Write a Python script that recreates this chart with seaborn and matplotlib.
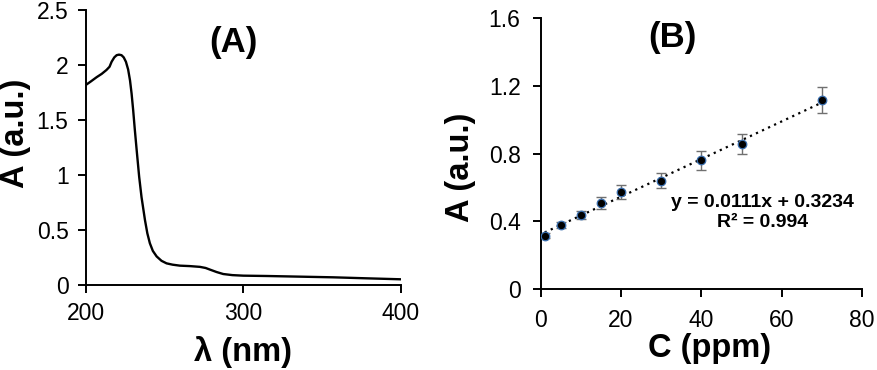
import numpy as np
import pandas as pd
import matplotlib
matplotlib.use("Agg")
import matplotlib.pyplot as plt
import seaborn as sns

# ---- Data: panel A (UV-Vis spectrum) ----
wavelength = [200, 203, 206.8, 210, 213, 215, 216.3, 218, 219.5, 221, 222.6, 224,
              225.4, 226.8, 228, 229, 230, 231, 232.2, 233.8, 235.3, 237.5, 239,
              240.6, 242.5, 244.9, 248, 251.2, 255, 259.7, 266, 272.4, 276,
              278.8, 283, 287.2, 293, 299.9, 314.7, 335.9, 357, 378, 400]
absorbance = [1.82, 1.85, 1.89, 1.92, 1.955, 1.985, 2.03, 2.07, 2.09, 2.095, 2.09, 2.07,
              2.03, 1.96, 1.86, 1.74, 1.59, 1.42, 1.23, 0.985, 0.80, 0.59, 0.47,
              0.38, 0.31, 0.26, 0.22, 0.197, 0.185, 0.176, 0.172, 0.165, 0.155,
              0.14, 0.118, 0.10, 0.09, 0.085, 0.082, 0.076, 0.07, 0.061, 0.052]

# ---- Data: panel B (calibration) ----
conc = [1, 5, 10, 15, 20, 30, 40, 50, 70]
abs_b = [0.315, 0.378, 0.437, 0.510, 0.573, 0.640, 0.760, 0.855, 1.117]
err_b = [0.015, 0.02, 0.024, 0.035, 0.043, 0.045, 0.055, 0.06, 0.079]
eq_text = "y = 0.0111x + 0.3234"
r2_text = "R² = 0.994"

xticks_a = [200, 300, 400]
yticks_a = [0, 0.5, 1, 1.5, 2, 2.5]
yticklabels_a = ["0", "0.5", "1", "1.5", "2", "2.5"]
xticks_b = [0, 20, 40, 60, 80]
yticks_b = [0, 0.4, 0.8, 1.2, 1.6]
yticklabels_b = ["0", "0.4", "0.8", "1.2", "1.6"]

sns.set_theme(style="ticks")
plt.rcParams['font.family'] = ['Liberation Sans', 'DejaVu Sans']
plt.rcParams['axes.linewidth'] = 1.4
plt.rcParams['xtick.major.width'] = 1.4
plt.rcParams['ytick.major.width'] = 1.4
plt.rcParams['xtick.major.size'] = 5.5
plt.rcParams['ytick.major.size'] = 5.5
plt.rcParams['xtick.color'] = 'black'
plt.rcParams['ytick.color'] = 'black'
plt.rcParams['xtick.labelcolor'] = 'black'
plt.rcParams['ytick.labelcolor'] = 'black'
plt.rcParams['axes.edgecolor'] = 'black'
plt.rcParams['axes.labelcolor'] = 'black'
plt.rcParams['text.color'] = 'black'

fig = plt.figure(figsize=(8.77, 3.70), dpi=100)
axA = fig.add_axes([0.098, 0.2297, 0.359, 0.743])
axB = fig.add_axes([0.6165, 0.219, 0.3665, 0.732])

TICK = 16.5
LAB = 23.5

# Panel A
dfA = pd.DataFrame({"wl": wavelength, "A": absorbance})
sns.lineplot(data=dfA, x="wl", y="A", ax=axA, color="black", lw=1.7)
axA.set_xlim(200, 400)
axA.set_ylim(0, 2.5)
axA.set_xticks(xticks_a)
axA.set_yticks(yticks_a)
axA.set_yticklabels(yticklabels_a)
axA.tick_params(labelsize=TICK, pad=7, colors="black")
axA.set_xlabel("λ (nm)", fontsize=LAB, fontweight="bold", color="black")
axA.set_ylabel("A (a.u.)", fontsize=LAB, fontweight="bold", color="black")
axA.xaxis.set_label_coords(0.50, -0.244)
axA.xaxis.label.set_va("center")
axA.yaxis.set_label_coords(-0.225, 0.55)
axA.yaxis.label.set_va("center")
axA.text(0.467, 0.883, "(A)", transform=axA.transAxes, ha="center", va="center",
         fontsize=25, fontweight="bold", color="black")
sns.despine(ax=axA)

# Panel B
dfB = pd.DataFrame({"C": conc, "A": abs_b, "err": err_b})
sns.regplot(data=dfB, x="C", y="A", ax=axB, scatter=False, ci=None, truncate=True,
            line_kws=dict(color="black", ls=(0, (1, 2)), lw=1.6))
axB.errorbar(dfB["C"], dfB["A"], yerr=dfB["err"], fmt="none", ecolor="#707070",
             elinewidth=1.0, capsize=3.5, capthick=1.0)
sns.scatterplot(data=dfB, x="C", y="A", ax=axB, color="black", s=38,
                edgecolor="#3a6fb0", linewidth=0.9, zorder=5)
axB.set_xlim(0, 80)
axB.set_ylim(0, 1.6)
axB.set_xticks(xticks_b)
axB.set_yticks(yticks_b)
axB.set_yticklabels(yticklabels_b)
axB.tick_params(labelsize=TICK, pad=9, colors="black")
axB.set_xlabel("C (ppm)", fontsize=LAB, fontweight="bold", color="black")
axB.set_ylabel("A (a.u.)", fontsize=LAB, fontweight="bold", color="black")
axB.xaxis.set_label_coords(0.527, -0.218)
axB.xaxis.label.set_va("center")
axB.yaxis.set_label_coords(-0.25, 0.45)
axB.yaxis.label.set_va("center")
axB.text(0.411, 0.927, "(B)", transform=axB.transAxes, ha="center", va="center",
         fontsize=25, fontweight="bold", color="black")
axB.text(0.69, 0.283, eq_text + "\n" + r2_text, transform=axB.transAxes,
         ha="center", va="center", fontsize=14, fontweight="bold", linespacing=1.2,
         color="black")
sns.despine(ax=axB)

fig.savefig("out.png", dpi=100)
